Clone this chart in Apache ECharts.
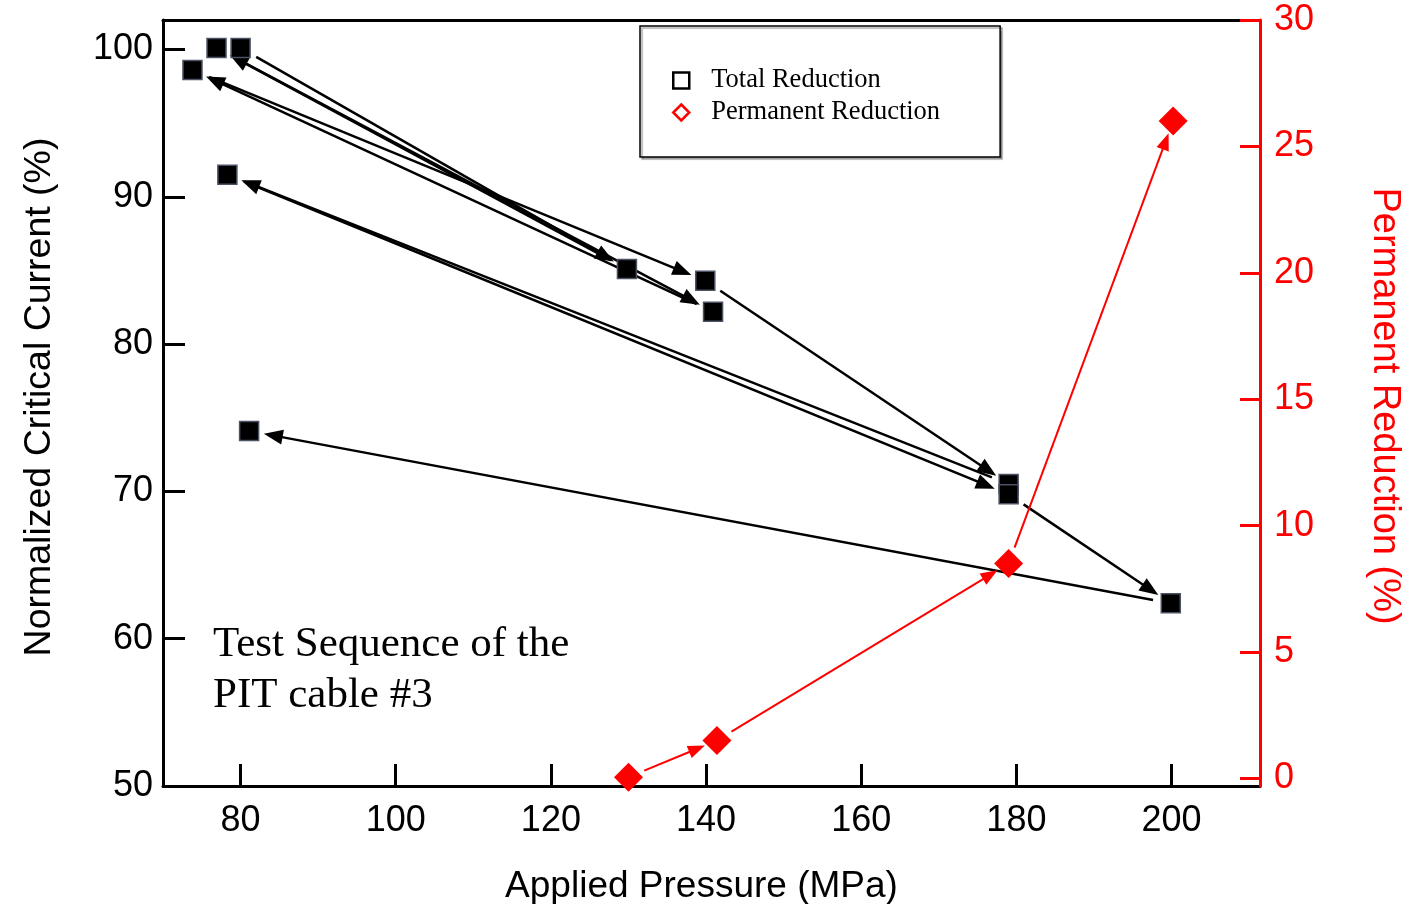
<!DOCTYPE html>
<html>
<head>
<meta charset="utf-8">
<title>Test Sequence of the PIT cable #3</title>
<script src="https://cdn.jsdelivr.net/npm/echarts@6/dist/echarts.min.js"></script>
<style>
  html, body { margin: 0; padding: 0; background: #fff; }
  #chart { width: 1411px; height: 904px; }
</style>
</head>
<body>
<div id="chart"></div>
<script>
// Load / unload test sequence, in the order the cable was tested
const testPressure = [80.0, 129.8, 76.9, 140.9, 73.8, 139.9, 179.0, 78.3, 179.0, 199.9, 81.1];
const normalizedIc = [100.1, 85.1, 100.1, 82.2, 98.6, 84.3, 70.5, 91.5, 69.8, 62.4, 74.1];

// Permanent reduction after each unload
const permPressure = [130.0, 141.4, 179.0, 200.2];
const permReduction = [0.05, 1.5, 8.5, 26.0];

// Axis tick values
const xTicks = [80, 100, 120, 140, 160, 180, 200];
const leftTicks = [50, 60, 70, 80, 90, 100];
const rightTicks = [0, 5, 10, 15, 20, 25, 30];

function pairs(xs, ys) {
  return xs.map((x, i) => [x, ys[i]]);
}

// consecutive points -> [x0, y0, x1, y1] segments
function steps(xs, ys) {
  const out = [];
  for (let i = 1; i < xs.length; i++) out.push([xs[i - 1], ys[i - 1], xs[i], ys[i]]);
  return out;
}

// draws a segment between two data points, trimmed at both ends, with an arrowhead at the end
function arrowRenderer(color, width, startGap, endGap, headLen, headHalf) {
  return function (params, api) {
    const a = api.coord([api.value(0), api.value(1)]);
    const b = api.coord([api.value(2), api.value(3)]);
    const dx = b[0] - a[0], dy = b[1] - a[1];
    const len = Math.hypot(dx, dy);
    const ux = dx / len, uy = dy / len;
    const nx = -uy, ny = ux;
    const sx = a[0] + ux * startGap, sy = a[1] + uy * startGap;
    const tx = b[0] - ux * endGap, ty = b[1] - uy * endGap;
    const bx = tx - ux * headLen, by = ty - uy * headLen;
    return {
      type: 'group',
      children: [
        {
          type: 'line',
          shape: { x1: sx, y1: sy, x2: bx + ux * 2, y2: by + uy * 2 },
          style: { stroke: color, lineWidth: width }
        },
        {
          type: 'polygon',
          shape: { points: [[tx, ty], [bx + nx * headHalf, by + ny * headHalf], [bx - nx * headHalf, by - ny * headHalf]] },
          style: { fill: color }
        }
      ]
    };
  };
}

const sans = 'Liberation Sans';
const serif = 'Liberation Serif';
const RED = '#ff0000';

const chart = echarts.init(document.getElementById('chart'), null, { renderer: 'canvas' });

chart.setOption({
  animation: false,
  backgroundColor: '#fff',
  grid: { left: 163, right: 151, top: 20, bottom: 118, containLabel: false, outerBoundsMode: 'none' },
  xAxis: [
    {
      type: 'value',
      position: 'bottom',
      min: 70,
      max: 211.4,
      name: 'Applied Pressure (MPa)',
      nameLocation: 'middle',
      nameGap: 82,
      nameTextStyle: { fontFamily: sans, fontSize: 37, color: '#000', padding: [0, 20, 0, 0] },
      axisLine: { show: true, onZero: false, lineStyle: { color: '#000', width: 3 } },
      axisTick: { show: true, inside: true, length: 22, customValues: xTicks, lineStyle: { color: '#000', width: 3 } },
      axisLabel: { customValues: xTicks, fontFamily: sans, fontSize: 36, color: '#000', margin: 17 },
      splitLine: { show: false }
    },
    {
      type: 'value',
      position: 'top',
      min: 70,
      max: 211.4,
      z: 0,
      axisLine: { show: true, onZero: false, lineStyle: { color: '#000', width: 3 } },
      axisTick: { show: false },
      axisLabel: { show: false },
      splitLine: { show: false }
    }
  ],
  yAxis: [
    {
      type: 'value',
      position: 'left',
      min: 50,
      max: 102,
      name: 'Normalized Critical Current (%)',
      nameLocation: 'middle',
      nameGap: 104,
      nameTextStyle: { fontFamily: sans, fontSize: 37.5, color: '#000', padding: [0, 0, 0, 12] },
      axisLine: { show: true, onZero: false, lineStyle: { color: '#000', width: 3 } },
      axisTick: { show: true, inside: true, length: 22, customValues: leftTicks, lineStyle: { color: '#000', width: 3 } },
      axisLabel: { customValues: leftTicks, fontFamily: sans, fontSize: 36, color: '#000', margin: 10 },
      splitLine: { show: false }
    },
    {
      type: 'value',
      position: 'right',
      min: -0.3,
      max: 30,
      z: 2,
      name: 'Permanent Reduction (%)',
      nameLocation: 'middle',
      nameRotate: -90,
      nameGap: 105,
      nameTextStyle: { fontFamily: sans, fontSize: 38, color: RED, padding: [0, 0, 0, 6] },
      axisLine: { show: true, onZero: false, lineStyle: { color: RED, width: 3 } },
      axisTick: { show: true, inside: true, length: 20, customValues: rightTicks, lineStyle: { color: RED, width: 3 } },
      axisLabel: { customValues: rightTicks, fontFamily: sans, fontSize: 36, color: RED, margin: 14 },
      splitLine: { show: false }
    }
  ],
  legend: {
    orient: 'vertical',
    left: 640,
    top: 26,
    padding: [41, 60, 31, 32],
    itemWidth: 16,
    itemHeight: 16,
    itemGap: 5,
    borderColor: '#000',
    borderWidth: 1.5,
    backgroundColor: '#fff',
    shadowColor: 'rgba(0,0,0,0.35)',
    shadowOffsetX: 2,
    shadowOffsetY: 2,
    shadowBlur: 1,
    textStyle: { fontFamily: serif, fontSize: 26.5, color: '#000', padding: [0, 0, 0, 17] },
    data: [
      { name: 'Total Reduction', icon: 'rect', itemStyle: { color: 'rgba(0,0,0,0)', borderColor: '#000', borderWidth: 2.5 } },
      { name: 'Permanent Reduction', icon: 'diamond', itemStyle: { color: 'rgba(0,0,0,0)', borderColor: RED, borderWidth: 2.5 } }
    ]
  },
  graphic: [
    {
      type: 'text',
      left: 213,
      top: 619,
      style: {
        text: 'Test Sequence of the\nPIT cable #3',
        fontFamily: serif,
        fontSize: 43,
        lineHeight: 51,
        fill: '#000'
      }
    }
  ],
  series: [
    {
      type: 'custom',
      name: 'sequence',
      xAxisIndex: 0,
      yAxisIndex: 0,
      silent: true,
      z: 1,
      renderItem: arrowRenderer('#000', 2.5, 18, 15, 19, 7.5),
      encode: { x: [0, 2], y: [1, 3] },
      data: steps(testPressure, normalizedIc)
    },
    {
      type: 'custom',
      name: 'permanent sequence',
      xAxisIndex: 0,
      yAxisIndex: 1,
      silent: true,
      z: 2,
      renderItem: arrowRenderer(RED, 2, 17, 13, 17, 6.5),
      encode: { x: [0, 2], y: [1, 3] },
      data: steps(permPressure, permReduction)
    },
    {
      type: 'scatter',
      name: 'Total Reduction',
      xAxisIndex: 0,
      yAxisIndex: 0,
      symbol: 'rect',
      symbolSize: 19,
      z: 3,
      itemStyle: { color: '#000', borderColor: '#4a5264', borderWidth: 1.5, opacity: 1 },
      data: pairs(testPressure, normalizedIc)
    },
    {
      type: 'scatter',
      name: 'Permanent Reduction',
      xAxisIndex: 0,
      yAxisIndex: 1,
      symbol: 'diamond',
      symbolSize: 29,
      z: 4,
      itemStyle: { color: RED, opacity: 1 },
      data: pairs(permPressure, permReduction)
    }
  ]
});
</script>
</body>
</html>
